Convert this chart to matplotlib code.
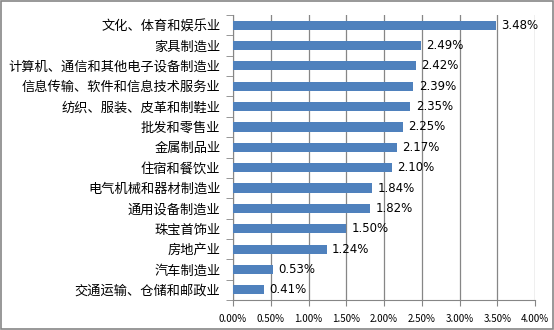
import matplotlib
matplotlib.use("Agg")
import matplotlib.pyplot as plt
import numpy as np
from matplotlib.ticker import FixedLocator, FuncFormatter
from matplotlib.patches import Rectangle

plt.rcParams['font.family'] = ['Noto Sans CJK SC', 'DejaVu Sans']

categories = ["文化、体育和娱乐业", "家具制造业", "计算机、通信和其他电子设备制造业",
              "信息传输、软件和信息技术服务业", "纺织、服装、皮革和制鞋业", "批发和零售业",
              "金属制品业", "住宿和餐饮业", "电气机械和器材制造业", "通用设备制造业",
              "珠宝首饰业", "房地产业", "汽车制造业", "交通运输、仓储和邮政业"]
values = [3.48, 2.49, 2.42, 2.39, 2.35, 2.25, 2.17, 2.10, 1.84, 1.82, 1.50, 1.24, 0.53, 0.41]
xticks = [0, 0.5, 1.0, 1.5, 2.0, 2.5, 3.0, 3.5, 4.0]

fig = plt.figure(figsize=(5.54, 3.30), dpi=100)
ax = fig.add_axes([233/554, 1-300/330, (535-233)/554, (300-15)/330])

n = len(categories)
y = np.arange(n)
ax.barh(y, values, height=0.45, color='#4F81BD', zorder=3)
ax.set_ylim(n-0.5, -0.5)
ax.set_xlim(0, 4)

ax.set_yticks(y)
ax.set_yticklabels(categories, fontsize=9.5)
ax.yaxis.set_minor_locator(FixedLocator(np.arange(-0.5, n, 1)))
ax.tick_params(axis='y', which='major', length=0, pad=9)
ax.tick_params(axis='y', which='minor', length=5, color='#868686', direction='out')

ax.set_xticks(xticks)
ax.xaxis.set_major_formatter(FuncFormatter(lambda v, p: f"{v:.2f}%"))
ax.tick_params(axis='x', labelsize=7, length=4, color='#868686', pad=6)
ax.grid(axis='x', color='#868686', linewidth=0.9, zorder=0)

for s in ['top', 'right']:
    ax.spines[s].set_visible(False)
for s in ['left', 'bottom']:
    ax.spines[s].set_color('#868686')

for yi, v in zip(y, values):
    ax.text(v + 0.07, yi, f"{v:.2f}%", va='center', ha='left', fontsize=8.5,
            family=['DejaVu Sans'], zorder=4)

fig.patches.append(Rectangle((1/554, 1/330), 552/554, 328/330, transform=fig.transFigure,
                             fill=False, edgecolor='#868686', linewidth=1.2))

fig.savefig('out.png', dpi=100)
